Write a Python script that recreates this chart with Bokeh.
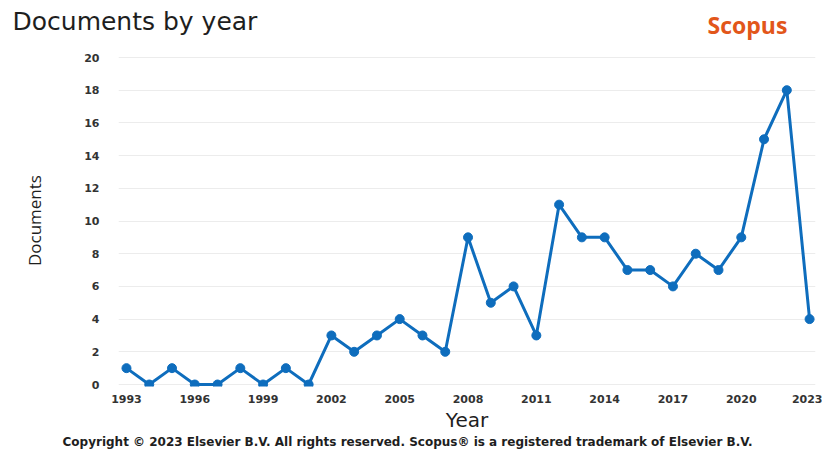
from bokeh.plotting import figure
from bokeh.models import Label, FixedTicker, Range1d, Title
from bokeh.embed import file_html
from bokeh.resources import INLINE

years = list(range(1993, 2024))
documents = [1, 0, 1, 0, 0, 1, 0, 1, 0, 3, 2, 3, 4, 3, 2, 9, 5, 6, 3, 11,
             9, 9, 7, 7, 6, 8, 7, 9, 15, 18, 4]
x_ticks = [1993, 1996, 1999, 2002, 2005, 2008, 2011, 2014, 2017, 2020, 2023]
y_ticks = [0, 2, 4, 6, 8, 10, 12, 14, 16, 18, 20]

BLUE = "#0e6dbd"
DARK = "#1e1e1e"
NBSP = "\u00a0"

p = figure(width=822, height=450, output_backend="svg", toolbar_location=None,
           x_range=Range1d(1992.65, 2023.26), y_range=Range1d(-0.122, 22.875),
           min_border_left=118, min_border_right=7, min_border_top=10,
           min_border_bottom=64)
p.outline_line_color = None

p.title = Title(text="Documents by year", align="left", offset=-106,
                standoff=-50, vertical_align="bottom",
                text_font="DejaVu Sans", text_font_style="normal",
                text_font_size="25px", text_color=DARK)

p.line(years, documents, line_color=BLUE, line_width=3)
p.scatter(years, documents, size=9, fill_color=BLUE, line_color=BLUE)

for ax in (p.xaxis[0], p.yaxis[0]):
    ax.major_tick_line_color = None
    ax.minor_tick_line_color = None
    ax.axis_line_color = None
    ax.major_label_text_font = "DejaVu Sans"
    ax.major_label_text_font_style = "bold"
    ax.major_label_text_font_size = "11px"
    ax.major_label_text_color = "#333333"

p.xaxis.ticker = FixedTicker(ticks=x_ticks)
p.yaxis.ticker = FixedTicker(ticks=y_ticks)
p.xaxis.major_label_standoff = 2
p.yaxis.major_label_standoff = 13

# trailing no-break spaces keep the label centred on the 0-20 grid
# rather than on the taller plot frame
p.yaxis.axis_label = "Documents" + NBSP * 10
p.yaxis.axis_label_text_font = "Open Sans"
p.yaxis.axis_label_text_font_style = "normal"
p.yaxis.axis_label_text_font_size = "17px"
p.yaxis.axis_label_text_color = DARK
p.yaxis.axis_label_standoff = 35

p.xaxis.axis_label = "Year"
p.xaxis.axis_label_text_font = "DejaVu Sans"
p.xaxis.axis_label_text_font_style = "normal"
p.xaxis.axis_label_text_font_size = "20px"
p.xaxis.axis_label_text_color = DARK
p.xaxis.axis_label_standoff = 2

p.xgrid.grid_line_color = None
p.ygrid.grid_line_color = "#ececec"

p.add_layout(Label(x=589, y=362, x_units="screen", y_units="screen",
                   text="Scopus", text_font="Open Sans", text_font_style="bold",
                   text_font_size="23px", text_color="#e2561a",
                   text_baseline="middle"))

p.add_layout(Title(text="Copyright \u00a9 2023 Elsevier B.V. All rights reserved. Scopus\u00ae is a registered trademark of Elsevier B.V.",
                   align="left", offset=-56, standoff=0, vertical_align="top",
                   text_font="DejaVu Sans", text_font_style="bold",
                   text_font_size="12px", text_color=DARK), "below")

open("out.html", "w").write(file_html(p, INLINE))
